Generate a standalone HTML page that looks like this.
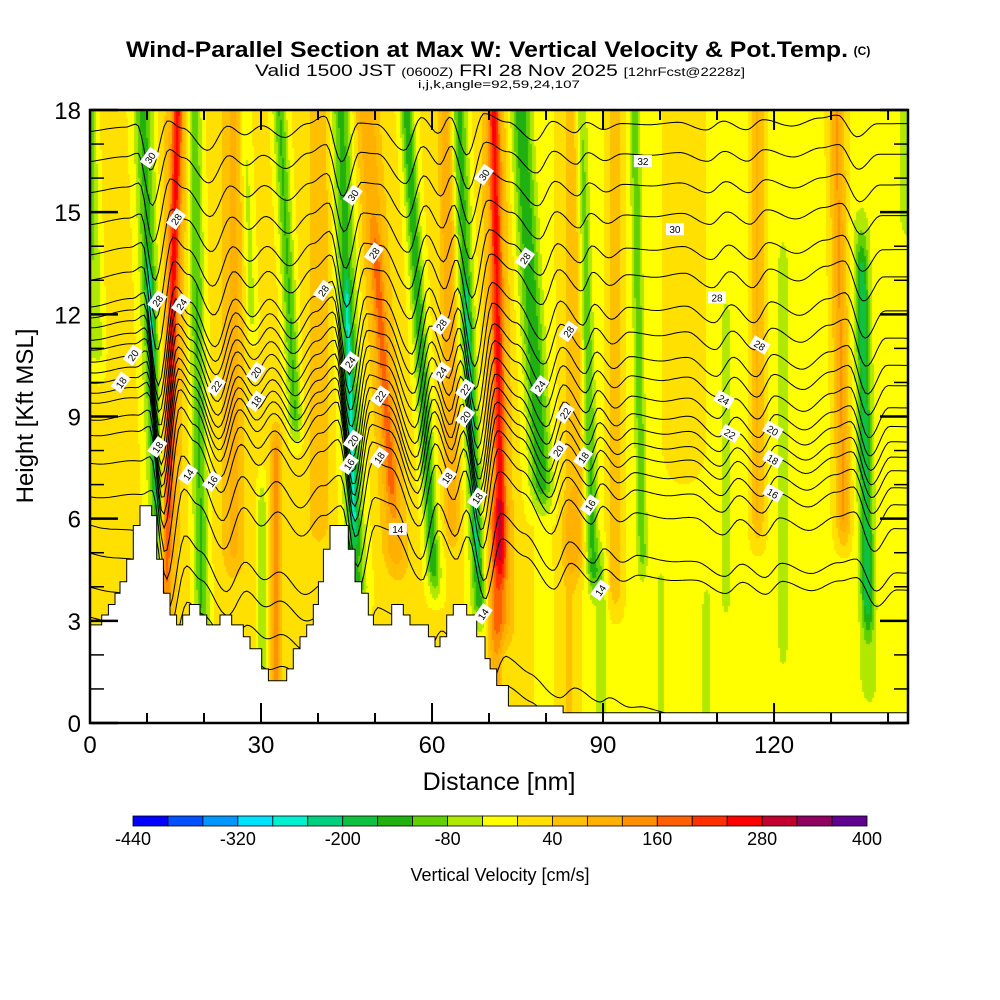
<!DOCTYPE html>
<html><head><meta charset="utf-8"><style>
html,body{margin:0;padding:0;background:#fff;}
#wrap{position:relative;width:1000px;height:1000px;overflow:hidden;font-family:"Liberation Sans",sans-serif;}
#field{position:absolute;left:90px;top:110px;}
#ov{position:absolute;left:0;top:0;}
</style></head><body>
<div id="wrap">
<canvas id="field" width="818" height="613"></canvas>
<svg id="ov" width="1000" height="1000" xmlns="http://www.w3.org/2000/svg">
<g font-family="Liberation Sans, sans-serif" text-anchor="middle">
<text x="487" y="57" font-size="22" font-weight="bold" textLength="722" lengthAdjust="spacingAndGlyphs">Wind-Parallel Section at Max W: Vertical Velocity &amp; Pot.Temp.</text>
<text x="862" y="55" font-size="12" font-weight="bold">(C)</text>
<text x="500" y="76" font-size="17" textLength="490" lengthAdjust="spacingAndGlyphs">Valid 1500 JST <tspan font-size="12">(0600Z)</tspan> FRI 28 Nov 2025 <tspan font-size="12">[12hrFcst@2228z]</tspan></text>
<text x="499" y="88" font-size="11" textLength="162" lengthAdjust="spacingAndGlyphs">i,j,k,angle=92,59,24,107</text>
</g>
<g id="contours"></g>
<g id="terrain"></g>
<g id="clabels"></g>
<g id="axes"></g>
<g id="cbar"></g>
</svg>
</div>
<script>
// ---- data ----
const xTicks=[0,30,60,90,120];
const yTicks=[0,3,6,9,12,15,18];
const cbarLabels=[-440,-320,-200,-80,40,160,280,400];
const cbarColors=["#0000ff","#0050ff","#0096ff","#00e0ff","#00f0d0","#00d080","#10c040","#20b010","#60d000","#b0e800","#ffff00","#ffe000","#ffc000","#ffb000","#ff9000","#ff6000","#ff3000","#ff0000","#c00030","#900060","#600090"];
// base vertical velocity (cm/s) along distance
const baseX=[0,30,70,90,143.5];
const baseV=[8,8,5,-8,-8];
// bands: x at 10 kft (nm), slant (nm/kft), half-width (nm), value (cm/s), vertical extent (kft)
const bandX=[-0.5,1.6,10.9,10.9,14.0,14.0,18.8,25,28.5,30,32.5,35.5,40,45.4,45.4,51.5,51.5,58.2,63,66.5,66.5,71.5,71.5,71,78,85,87.2,92,96.2,104,111.4,117,121.4,131.6,135.6,135.6,143,89.5,84,100,108];
const bandS=[0,-0.2,-0.22,-0.22,0.15,0.15,-0.1,0,-0.2,0,0,-0.3,0,-0.19,-0.19,-0.4,-0.4,-0.35,-0.1,-0.25,-0.25,-0.1,-0.1,0,-0.33,0,-0.15,0,-0.1,0,0,0,0,-0.1,-0.1,-0.1,0,0,0,0,0];
const bandW=[1.2,1.0,0.6,1.7,0.8,2.0,1.3,2.0,1.0,0.8,1.0,1.2,2.0,0.6,1.8,1.0,2.2,1.2,1.3,0.5,1.4,0.9,2.1,1.2,1.9,2.0,1.1,1.3,0.9,3.0,0.9,1.2,0.9,1.3,1.0,1.6,1.2,1.0,1.5,1.0,1.0];
const bandV=[-70,-60,-120,-140,140,110,-130,80,-70,-80,130,-130,70,-120,-140,70,100,-150,110,-100,-140,140,110,100,-150,80,-130,80,-100,40,-70,90,-70,130,-110,-70,-70,-60,50,-50,-50];
const bandLo=[11,11,6.5,3.5,3,3,3,5,12,0,0,9,6,6,4,7,5,4.5,6,5,3.5,5,3,0,7,5,4.5,4,5,8,3.9,6,2.4,6,3.5,1.3,15,0,0,0,0];
const bandHi=[18.5,18.5,13,18.5,18.5,18.5,18.5,18.5,18.5,6.5,8,18.5,18.5,12.5,18.5,14,18.5,18.5,18.5,12.5,18.5,18.5,18.5,6,18.5,18.5,18.5,18.5,18.5,18.5,11.7,18.5,13.5,18.5,13.3,14.5,18.5,4.5,6,4,3.5];
// terrain steps
const terrX=[0,2.05,3.22,4.39,5.26,6.43,7.60,8.77,10.82,11.70,12.87,14.04,15.20,16.26,17.43,19.30,20.47,22.81,24.85,26.90,28.07,30.12,31.29,34.50,35.67,36.84,38.01,39.18,40.06,40.94,42.11,45.32,46.49,47.66,48.83,49.71,52.92,54.97,56.14,59.36,60.53,61.40,62.57,63.74,66.08,67.84,69.30,70.18,71.35,73.4,83.0];
const terrH=[2.88,3.17,3.48,3.81,4.15,4.81,5.8,6.38,6.09,4.81,3.81,3.17,2.88,3.17,3.48,3.17,2.88,3.17,2.88,2.53,2.18,1.59,1.24,1.59,2.18,2.53,2.88,3.48,4.15,5.1,5.8,5.1,4.15,3.81,3.17,2.88,3.48,3.17,2.88,2.53,2.24,2.53,3.17,3.48,3.17,2.53,1.89,1.59,1.1,0.5,0.3];
// theta contours: heights at left & right edges (kft)
const levelL=[3.11,3.99,4.99,5.81,6.64,7.63,8.45,8.9,9.4,9.69,9.98,10.28,10.6,10.95,11.24,11.6,11.89,12.21,13.0,13.74,14.62,15.56,16.47,17.35];
const levelR=[-3.0,-2.0,-1.2,-0.4,3.9,4.4,5.7,6.4,6.9,7.4,7.8,8.25,8.7,9.25,9.9,10.5,11.3,12.1,13.1,13.9,14.9,15.8,16.7,17.6];
const rampX=[0,40,80,110,143.5];
const rampT=[0,0.3,0.75,0.95,1];
// wave displacement at 10 kft
const pertX=[0,8,10,12.5,15.5,18,22.5,26,29,32,36,40,43,46,49,52,57,60,63,65,68,71,75,80,83,87,89,92,95,100,105,110,113,117,120,125,130,133,136.5,140,143.5];
const pertD=[0,0.3,0.5,-2.6,0.7,0.2,-1.3,0.3,-0.3,0.3,-0.5,0.4,0.9,-2.2,0.4,0.3,-1.5,0.7,-0.4,0.7,-1.9,0.9,0.3,-1.0,0.3,-0.5,0.2,-0.3,0.1,0,0.15,-0.4,0.2,-0.4,0.3,-0.15,0.4,0.6,-0.9,0,0];
const ampH=[0,3,6,9,12,15,18];
const ampW=[0.25,0.45,0.8,1.0,0.9,0.6,0.4];
// contour labels
const labX=[10.5,15.1,11.8,16.0,7.5,5.4,22.1,29.1,29.1,11.8,17.2,21.4,46.1,49.8,40.9,69.1,97.0,102.6,110.0,76.3,83.9,117.5,45.6,50.9,46.1,45.4,50.7,61.6,61.6,65.8,65.8,62.6,67.9,54.0,68.9,78.9,83.3,82.1,86.5,87.7,89.5,111.2,112.3,119.8,119.8,119.8];
const labY=[16.6,14.8,12.4,12.3,10.8,10.0,9.9,10.3,9.45,8.1,7.3,7.1,15.5,13.8,12.7,16.1,16.5,14.5,12.5,13.65,11.5,11.1,10.6,9.6,8.3,7.6,7.8,10.3,11.7,9.8,9.0,7.2,6.6,5.7,3.2,9.9,9.1,8.0,7.8,6.4,3.9,9.5,8.5,8.6,7.75,6.75];
const labT=["30","28","28","24","20","18","22","20","18","18","14","16","30","28","28","30","32","30","28","28","28","28","24","22","20","16","18","24","28","22","20","18","18","14","14","24","22","20","18","16","14","24","22","20","18","16"];

// ---- scales ----
const X0=90,X1=908,Y0=723,Y1=110,XMAX=143.5,YMAX=18;
const sx=n=>X0+n*(X1-X0)/XMAX;
const sy=k=>Y0-k*(Y0-Y1)/YMAX;
function interp(xs,ys,x){if(x<=xs[0])return ys[0];for(let i=1;i<xs.length;i++){if(x<=xs[i]){const t=(x-xs[i-1])/(xs[i]-xs[i-1]);return ys[i-1]+t*(ys[i]-ys[i-1]);}}return ys[ys.length-1];}
function sinterp(xs,ys,x){if(x<=xs[0])return ys[0];for(let i=1;i<xs.length;i++){if(x<=xs[i]){let t=(x-xs[i-1])/(xs[i]-xs[i-1]);t=(1-Math.cos(Math.PI*t))/2;return ys[i-1]+t*(ys[i]-ys[i-1]);}}return ys[ys.length-1];}
const NS="http://www.w3.org/2000/svg";
function mk(tag,attrs,parent){const e=document.createElementNS(NS,tag);for(const k in attrs)e.setAttribute(k,attrs[k]);parent.appendChild(e);return e;}
function colorIdx(v){let i=Math.floor((v+440)/40);return Math.max(0,Math.min(20,i));}

// ---- field ----
(function(){
 const cv=document.getElementById('field');const ctx=cv.getContext('2d');
 const W=818,H=613,step=2;
 const rgb=cbarColors.map(c=>[parseInt(c.substr(1,2),16),parseInt(c.substr(3,2),16),parseInt(c.substr(5,2),16)]);
 const img=ctx.createImageData(W,H);
 for(let py=0;py<H;py+=step){
  const k=(H-py)*YMAX/H;
  for(let px=0;px<W;px+=step){
   const n=px*XMAX/W;
   let v=interp(baseX,baseV,n);
   for(let b=0;b<bandX.length;b++){
    const cx=bandX[b]+bandS[b]*(k-10);
    const d=(n-cx)/bandW[b];
    if(d>3||d<-3)continue;
    let tv=1;
    if(k<bandLo[b])tv=Math.max(0,1-(bandLo[b]-k)/1.2);
    else if(k>bandHi[b])tv=Math.max(0,1-(k-bandHi[b])/1.2);
    v+=bandV[b]*Math.exp(-d*d)*tv;
   }
   const c=rgb[colorIdx(v)];
   for(let yy=0;yy<step;yy++)for(let xx=0;xx<step;xx++){
    if(px+xx>=W||py+yy>=H)continue;
    const o=((py+yy)*W+(px+xx))*4;
    img.data[o]=c[0];img.data[o+1]=c[1];img.data[o+2]=c[2];img.data[o+3]=255;}
  }
 }
 ctx.putImageData(img,0,0);
})();

// ---- contours ----
(function(){
 const g=document.getElementById('contours');
 for(let i=0;i<levelL.length;i++){
  let d="";
  for(let n=0;n<=XMAX+0.01;n+=0.5){
   const r=interp(rampX,rampT,n);
   const hb=levelL[i]+(levelR[i]-levelL[i])*r;
   const a=interp(ampH,ampW,Math.max(0,hb));
   const h=hb+a*sinterp(pertX,pertD,n+0.25*(hb-10));
   const py=Math.max(Y1,Math.min(Y0,sy(h)));
   d+=(d?"L":"M")+sx(n).toFixed(1)+","+py.toFixed(1);
  }
  const p=mk('path',{d:d,fill:'none',stroke:'#000','stroke-width':1},g);
  
  
 }
})();

// ---- terrain ----
(function(){
 const g=document.getElementById('terrain');
 let d="M"+sx(0)+","+sy(0);
 for(let i=0;i<terrX.length;i++){
  const xe=i+1<terrX.length?terrX[i+1]:XMAX;
  d+="L"+sx(terrX[i]).toFixed(1)+","+sy(terrH[i]).toFixed(1)+"L"+sx(xe).toFixed(1)+","+sy(terrH[i]).toFixed(1);
 }
 d+="L"+sx(XMAX)+","+sy(0)+"Z";
 const p=mk('path',{d:d,fill:'#fff',stroke:'#000','stroke-width':1},g);
 
 
})();

// ---- contour labels ----
(function(){
 const g=document.getElementById('clabels');
 for(let i=0;i<labX.length;i++){
  const x=sx(labX[i]),y=sy(labY[i]);
  const flat=(labX[i]>95&&labX[i]<112&&labY[i]>12)||labX[i]===54.0;
  const ang=flat?0:(labX[i]>100?30:-55);
  const gg=mk('g',{transform:`translate(${x.toFixed(1)},${y.toFixed(1)}) rotate(${ang})`},g);
  
  
  mk('rect',{x:-9,y:-6,width:18,height:12,fill:'#fff'},gg);
  const t=mk('text',{x:0,y:4,'font-size':10,'text-anchor':'middle','font-family':'Liberation Sans, sans-serif'},gg);
  t.textContent=labT[i];
 }
})();

// ---- axes ----
(function(){
 const g=document.getElementById('axes');
 const fr=mk('rect',{x:X0,y:Y1,width:X1-X0,height:Y0-Y1,fill:'none',stroke:'#000','stroke-width':2.5},g);
 
 
 for(let n=0;n<=140;n+=10){
  const L=(n%30===0)?20:10;
  mk('line',{x1:sx(n),x2:sx(n),y1:Y0,y2:Y0-L,stroke:'#000','stroke-width':2},g);
  mk('line',{x1:sx(n),x2:sx(n),y1:Y1,y2:Y1+L,stroke:'#000','stroke-width':2},g);
 }
 for(let k=0;k<=18;k++){
  const L=(k%3===0)?28:14;
  mk('line',{x1:X0,x2:X0+L,y1:sy(k),y2:sy(k),stroke:'#000','stroke-width':(k%3===0)?2.5:1.5},g);
  mk('line',{x1:X1,x2:X1-L,y1:sy(k),y2:sy(k),stroke:'#000','stroke-width':(k%3===0)?2.5:1.5},g);
 }
 xTicks.forEach(v=>{const t=mk('text',{x:sx(v),y:753,'font-size':24,'text-anchor':'middle'},g);t.textContent=v;
  });
 yTicks.forEach(v=>{const t=mk('text',{x:81,y:sy(v)+9,'font-size':24,'text-anchor':'end'},g);t.textContent=v;
  });
 const xt=mk('text',{x:499,y:790,'font-size':25,'text-anchor':'middle'},g);xt.textContent="Distance [nm]";
 
 const yt=mk('text',{x:0,y:0,'font-size':24,'text-anchor':'middle',transform:'translate(33,416) rotate(-90)'},g);yt.textContent="Height [Kft MSL]";
 
})();

// ---- colorbar ----
(function(){
 const g=document.getElementById('cbar');
 const cx0=133,cw=(867-133)/cbarColors.length;
 cbarColors.forEach((c,i)=>{const r=mk('rect',{x:cx0+i*cw,y:816,width:cw,height:10,fill:c,stroke:'#000','stroke-width':0.8},g);
  });
 cbarLabels.forEach(v=>{const t=mk('text',{x:cx0+(v+440)/40*cw,y:845,'font-size':18,'text-anchor':'middle'},g);t.textContent=v;
  });
 const t=mk('text',{x:500,y:881,'font-size':18,'text-anchor':'middle'},g);t.textContent="Vertical Velocity [cm/s]";
 
})();
</script>
</body></html>
